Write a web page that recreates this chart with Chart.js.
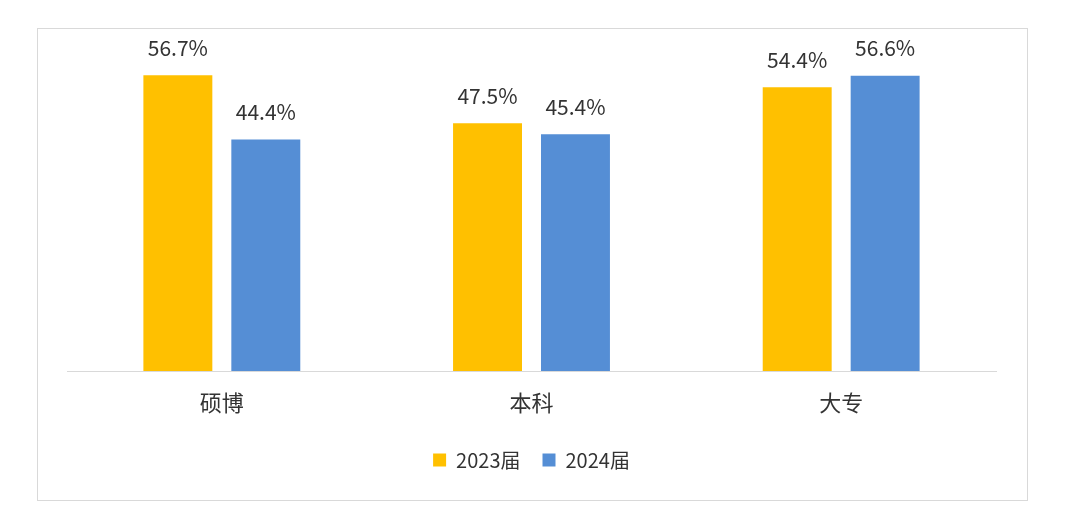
<!DOCTYPE html>
<html>
<head>
<meta charset="utf-8">
<script src="https://cdn.jsdelivr.net/npm/chart.js@4/dist/chart.umd.min.js"></script>
<style>
  body { margin: 0; background: #fff; }
  #box { position: absolute; left: 37px; top: 28px; width: 989px; height: 471px; border: 1px solid #d9d9d9; }
</style>
</head>
<body>
<div id="box"><canvas id="c" width="989" height="471"></canvas></div>
<script>
// --- Datos ---
const categorias = ['硕博', '本科', '大专'];
const serie2023 = [56.7, 47.5, 54.4];
const serie2024 = [44.4, 45.4, 56.6];
const nombres = ['2023届', '2024届'];

const FONT = '"Microsoft YaHei", "Noto Sans CJK SC", sans-serif';

// etiquetas encima de cada barra
const etiquetas = {
  id: 'etiquetas',
  afterDatasetsDraw(chart) {
    const ctx = chart.ctx;
    ctx.save();
    ctx.font = '21px ' + FONT;
    ctx.fillStyle = '#333333';
    ctx.textAlign = 'center';
    ctx.textBaseline = 'bottom';
    chart.data.datasets.forEach((ds, i) => {
      chart.getDatasetMeta(i).data.forEach((bar, j) => {
        ctx.fillText(ds.data[j].toFixed(1) + '%', bar.x, bar.y - 17);
      });
    });
    ctx.restore();
  }
};

new Chart(document.getElementById('c'), {
  type: 'bar',
  data: {
    labels: categorias,
    datasets: [
      { label: nombres[0], data: serie2023, backgroundColor: '#FFC000' },
      { label: nombres[1], data: serie2024, backgroundColor: '#558ED5' }
    ]
  },
  options: {
    responsive: false,
    animation: false,
    categoryPercentage: 0.568,
    barPercentage: 0.784,
    layout: { padding: { left: 29, right: 31, top: 29, bottom: 20 } },
    scales: {
      y: { display: false, min: 0, max: 60 },
      x: {
        grid: { display: false },
        border: { display: true, color: '#d9d9d9', width: 1 },
        ticks: { color: '#333333', font: { family: FONT, size: 22 }, padding: 10 },
        afterFit(scale) { scale.height = 57; }
      }
    },
    plugins: {
      legend: {
        position: 'bottom',
        labels: {
          color: '#333333',
          font: { family: FONT, size: 20, lineHeight: 1 },
          boxWidth: 13, boxHeight: 13,
          padding: 22
        }
      },
      tooltip: { enabled: false }
    }
  },
  plugins: [etiquetas]
});
</script>
</body>
</html>
